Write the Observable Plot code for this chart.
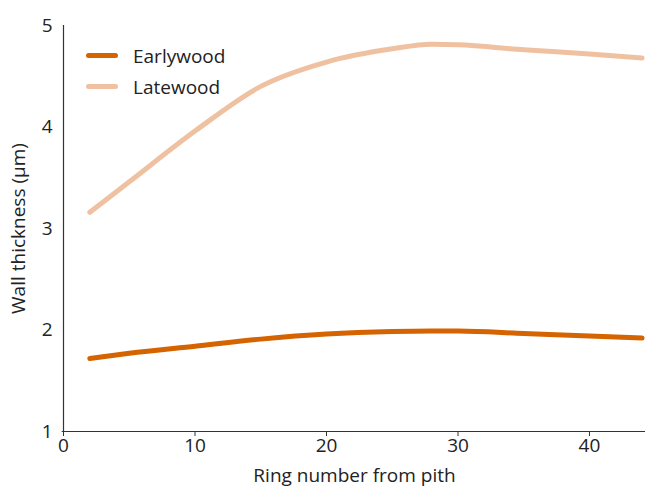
<!DOCTYPE html>
<html>
<head>
<meta charset="utf-8">
<script src="https://cdn.jsdelivr.net/npm/d3@7"></script>
<script src="https://cdn.jsdelivr.net/npm/@observablehq/plot@0.6"></script>
<style>
  html, body { margin: 0; padding: 0; background: #fff; }
  #wrap { position: relative; width: 647px; height: 488px; font-family: "Open Sans", sans-serif; }
  #legend { position: absolute; left: 86px; top: 40px; font-size: 19px; color: #222; }
  .item { display: flex; align-items: center; height: 31px; }
  .sw { width: 32px; height: 5px; border-radius: 3px; margin-right: 15px; }
</style>
</head>
<body>
<div id="wrap"><div id="legend"></div></div>
<script>
const ringX = [2, 5, 10, 15, 20, 25, 28, 30, 35, 40, 44];
const earlywood = [1.72, 1.77, 1.84, 1.91, 1.96, 1.985, 1.99, 1.99, 1.965, 1.94, 1.92];
const latewood = [3.16, 3.46, 3.96, 4.40, 4.64, 4.77, 4.815, 4.81, 4.76, 4.72, 4.68];
const seriesNames = ["Earlywood", "Latewood"];
const seriesColors = ["#d46300", "#efc1a1"];
const xTicks = [0, 10, 20, 30, 40];
const yTicks = [1, 2, 3, 4, 5];

const rows = [];
ringX.forEach((x, i) => {
  rows.push({x, y: earlywood[i], s: seriesNames[0]});
  rows.push({x, y: latewood[i], s: seriesNames[1]});
});

const chart = Plot.plot({
  width: 647,
  height: 488,
  marginLeft: 63,
  marginRight: 2,
  marginTop: 25,
  marginBottom: 57,
  style: {fontFamily: "Open Sans, sans-serif", fontSize: "19px", color: "#222", background: "#fff"},
  x: {domain: [0, 44.26]},
  y: {domain: [1, 5]},
  color: {domain: seriesNames, range: seriesColors},
  marks: [
    Plot.ruleY([1], {stroke: "#333", strokeWidth: 1.2, x1: -0.1, x2: 44.26}),
    Plot.ruleX([0], {stroke: "#333", strokeWidth: 1.2}),
    Plot.axisX({ticks: xTicks, tickSize: 5, tickPadding: 2, stroke: "#333", fill: "#222", tickFormat: "d",
      label: "Ring number from pith", labelAnchor: "center", labelArrow: "none", labelOffset: 50}),
    Plot.axisY({ticks: yTicks, tickSize: 0, tickPadding: 11, fill: "#222", tickFormat: "d",
      label: "Wall thickness (μm)", labelAnchor: "center", labelArrow: "none", labelOffset: 52}),
    Plot.line(rows, {x: "x", y: "y", z: "s", stroke: "s", strokeWidth: 5, curve: "monotone-x",
      strokeLinecap: "round", strokeLinejoin: "round"})
  ]
});
document.getElementById("wrap").prepend(chart);

const legend = document.getElementById("legend");
seriesNames.forEach((n, i) => {
  const it = document.createElement("div");
  it.className = "item";
  it.innerHTML = `<div class="sw" style="background:${seriesColors[i]}"></div><span>${n}</span>`;
  legend.appendChild(it);
});
</script>
</body>
</html>
